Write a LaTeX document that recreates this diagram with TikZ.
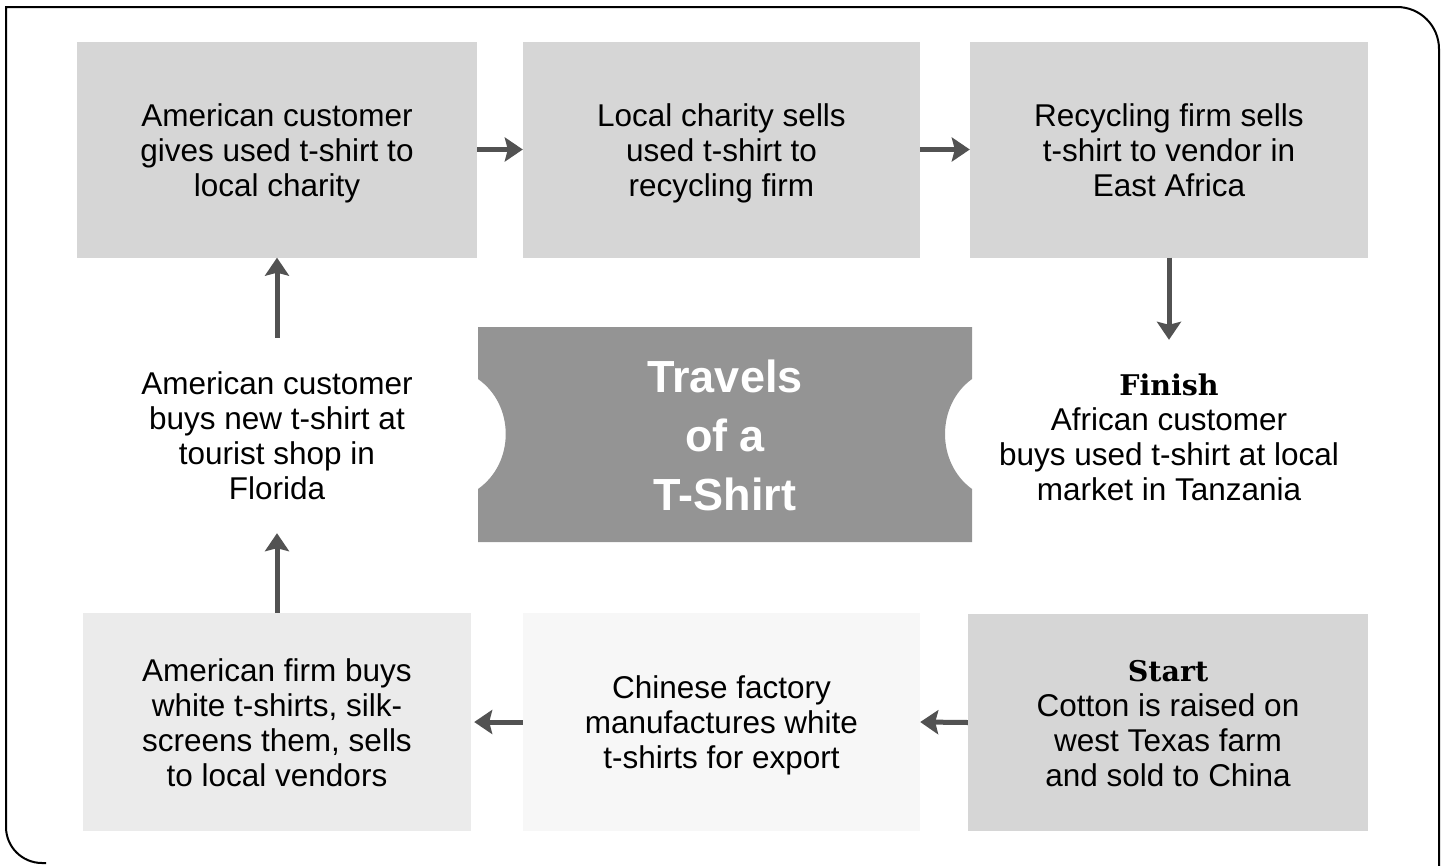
\documentclass[tikz,border=0pt]{standalone}
\usepackage{fontspec}
\newfontfamily\sansfont{Liberation Sans}
\newfontfamily\slabfont{DejaVu Serif}
\usetikzlibrary{arrows.meta}
\newcommand\stagefont{\slabfont\bfseries\fontsize{28.5}{35}\selectfont}

\begin{document}
\begin{tikzpicture}[x=1pt,y=-1pt,
  every node/.style={inner sep=0pt, align=center, font=\sansfont\fontsize{31.5}{35}\selectfont},
  three/.style={text height=93pt, text depth=0pt},
  four/.style={text height=128pt, text depth=0pt},
  stepbox/.style={minimum width=400pt, minimum height=216pt},
  midbox/.style={stepbox, fill=black!16},
  paleBox/.style={stepbox, fill=black!8},
  whiteBox/.style={stepbox, fill=black!3},
  freetext/.style={four, minimum height=195pt},
  flow/.style={line width=5pt, draw=black!68, -{Stealth[width=24pt,length=18pt,inset=3pt]}},
  frame/.style={line width=2pt, draw=black},
  ticketfill/.style={fill=black!42},
  title/.style={text=white, font=\sansfont\bfseries\fontsize{45}{59}\selectfont}]

\useasboundingbox (0,0) rectangle (1446,865);

% outer frame: square top-left, rounded top-right and bottom-left
\draw[frame] (1439,870) -- (1439,49) .. controls (1439,25.8) and (1420.2,7) .. (1397,7)
  -- (6,7) -- (6,827) .. controls (6,846.9) and (22.1,863) .. (42,863) -- (46,863);

% central ticket with notched sides
\path[ticketfill] (478,327) -- (972,327) -- (972,379)
  .. controls (936,405) and (936,463) .. (972,489) -- (972,542) -- (478,542) -- (478,489)
  .. controls (515,463) and (515,405) .. (478,379) -- cycle;
\node[title] (title) at (725,435) {Travels\\of a\\T-Shirt};

% top row
\node[midbox, three] (tl) at (277,149.5) {American customer\\gives used t-shirt to\\local charity};
\node[midbox, three, minimum width=397pt] (tm) at (721.5,149.5) {Local charity sells\\used t-shirt to\\recycling firm};
\node[midbox, three, minimum width=398pt] (tr) at (1169,149.5) {Recycling firm sells\\t-shirt to vendor in\\East Africa};

% middle row
\node[freetext] (ml) at (277,435.5) {American customer\\buys new t-shirt at\\tourist shop in\\Florida};
\node[freetext, minimum height=192pt] (fin) at (1169,436) {{\stagefont Finish}\\African customer\\buys used t-shirt at local\\market in Tanzania};

% bottom row
\node[paleBox, four, minimum width=388pt, minimum height=218pt] (bl) at (277,722) {American firm buys\\white t-shirts, silk-\\screens them, sells\\to local vendors};
\node[whiteBox, three, minimum width=397pt, minimum height=218pt] (bm) at (721.5,722) {Chinese factory\\manufactures white\\t-shirts for export};
\node[midbox, four, minimum height=217pt] (br) at (1168,722.5) {{\stagefont Start}\\Cotton is raised on\\west Texas farm\\and sold to China};

% the t-shirt's route
\draw[flow] (br.west) -- (bm.east);
\draw[flow, shorten >=3pt] (bm.west) -- (bl.east);
\draw[flow] (bl.north) -- (ml.south);
\draw[flow] (ml.north) -- (tl.south);
\draw[flow] (tl.east) -- (tm.west);
\draw[flow] (tm.east) -- (tr.west);
\draw[flow] (tr.south) -- (fin.north);
\end{tikzpicture}
\end{document}
